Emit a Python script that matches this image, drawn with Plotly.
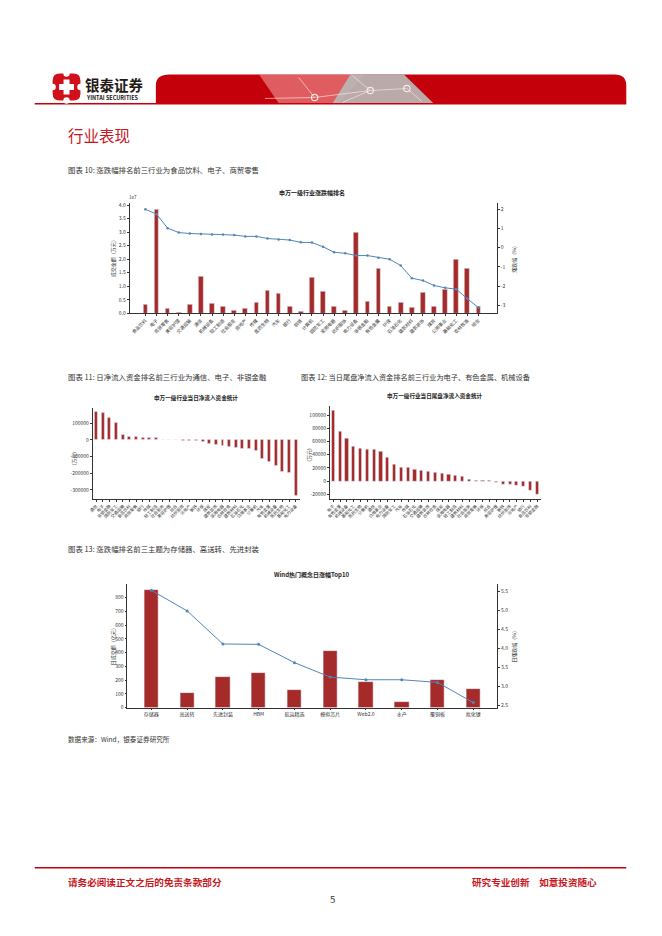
import plotly.graph_objects as go

W, H = 662, 936
def px(x): return x / W
def py(y): return 1 - y / H

FONT = "Noto Sans CJK SC"
BAR = "#a52a2a"
LINE = "#4f86b8"
RED = "#c8161d"

# ---------------- data ----------------
ind10 = ["食品饮料", "电子", "商贸零售", "美容护理", "交通运输", "通信", "机械设备", "轻工制造",
         "社会服务", "房地产", "传媒", "医药生物", "汽车", "银行", "钢铁", "计算机", "国防军工",
         "家用电器", "纺织服饰", "电力设备", "非银金融", "有色金属", "环保", "石油石化", "建筑材料",
         "建筑装饰", "煤炭", "公用事业", "基础化工", "农林牧渔", "综合"]
amount10 = [3200000, 38500000, 1700000, 400000, 3400000, 13700000, 3700000, 2500000,
            1100000, 1700000, 3900000, 8300000, 7400000, 2500000, 700000, 13200000, 8000000,
            2300000, 1100000, 29900000, 4200000, 16700000, 2600000, 3800000, 2100000,
            7500000, 2600000, 8800000, 19900000, 16400000, 2300000]
pct10 = [2.00, 1.75, 1.02, 0.79, 0.74, 0.72, 0.69, 0.69, 0.66, 0.59, 0.59, 0.48, 0.43, 0.40,
         0.28, 0.27, 0.05, -0.24, -0.29, -0.41, -0.41, -0.52, -0.60, -0.93, -1.59, -1.71,
         -1.97, -2.09, -2.16, -2.66, -3.12]
y10_ticks = [0, 5e6, 1e7, 1.5e7, 2e7, 2.5e7, 3e7, 3.5e7, 4e7]
y10_text = ["0.0", "0.5", "1.0", "1.5", "2.0", "2.5", "3.0", "3.5", "4.0"]
y10r_ticks = [2, 1, 0, -1, -2, -3]

ind11 = ["通信", "电子", "非银金融", "国防军工", "交通运输", "食品饮料", "商贸零售", "银行", "传媒",
         "轻工制造", "社会服务", "美容护理", "综合", "纺织服饰", "房地产", "钢铁", "环保", "煤炭",
         "建筑装饰", "家用电器", "农林牧渔", "建筑材料", "石油石化", "公用事业", "计算机", "汽车",
         "有色金属", "机械设备", "医药生物", "基础化工", "电力设备"]
flow11 = [167000, 161000, 135000, 105000, 32000, 20000, 16000, 13000, 11000, 10000, 1000, 500,
          -1500, -2500, -4000, -8000, -12000, -22000, -32000, -36000, -40000, -46000, -52000,
          -56000, -68000, -115000, -131000, -153000, -192000, -195000, -333000]
y11_ticks = [100000, 0, -100000, -200000, -300000]

ind12 = ["电子", "有色金属", "机械设备", "基础化工", "医药生物", "计算机", "通信", "公用事业",
         "电力设备", "国防军工", "汽车", "传媒", "石油石化", "交通运输", "建筑装饰", "农林牧渔",
         "煤炭", "家用电器", "轻工制造", "建筑材料", "社会服务", "商贸零售", "环保", "综合",
         "美容护理", "钢铁", "纺织服饰", "房地产", "银行", "食品饮料", "非银金融"]
flow12 = [107000, 75000, 65000, 52000, 50000, 47500, 47500, 45000, 35500, 25000, 20500, 20000,
          17000, 16000, 14000, 12500, 11000, 9500, 8000, 6500, 2000, 1500, 800, 500, -2500,
          -4500, -4500, -6000, -8000, -15000, -21000]
y12_ticks = [100000, 80000, 60000, 40000, 20000, 0, -20000]

concept13 = ["存储器", "高送转", "先进封装", "HBM", "航运精选", "模拟芯片", "Web2.0", "水产",
             "覆铜板", "氮化镓"]
turnover13 = [857, 109, 220, 251, 130, 411, 186, 43, 205, 133]
pct13 = [5.52, 4.98, 4.11, 4.10, 3.62, 3.24, 3.17, 3.17, 3.10, 2.57]
y13_ticks = [0, 100, 200, 300, 400, 500, 600, 700, 800]
y13r_ticks = [2.5, 3.0, 3.5, 4.0, 4.5, 5.0, 5.5]

# ---------------- figure ----------------
fig = go.Figure()

# chart 10
fig.add_trace(go.Bar(x=ind10, y=amount10, marker_color=BAR, width=0.42,
                     xaxis="x", yaxis="y", showlegend=False))
fig.add_trace(go.Scatter(x=ind10, y=pct10, mode="lines+markers",
                         line=dict(color=LINE, width=1), marker=dict(size=2.5, color=LINE),
                         xaxis="x", yaxis="y2", showlegend=False))
# chart 11
fig.add_trace(go.Bar(x=ind11, y=flow11, marker_color=BAR, width=0.45,
                     xaxis="x2", yaxis="y3", showlegend=False))
# chart 12
fig.add_trace(go.Bar(x=ind12, y=flow12, marker_color=BAR, width=0.45,
                     xaxis="x3", yaxis="y4", showlegend=False))
# chart 13
fig.add_trace(go.Bar(x=concept13, y=turnover13, marker_color=BAR, width=0.4,
                     xaxis="x4", yaxis="y5", showlegend=False))
fig.add_trace(go.Scatter(x=concept13, y=pct13, mode="lines+markers",
                         line=dict(color=LINE, width=1), marker=dict(size=3, color=LINE),
                         xaxis="x4", yaxis="y6", showlegend=False))

tickf = dict(family=FONT, size=5, color="#333")
ax_common = dict(showgrid=False, zeroline=False, showline=True, linecolor="#333",
                 linewidth=0.6, ticks="outside", ticklen=2, tickwidth=0.5,
                 tickcolor="#333", tickfont=tickf)

fig.update_layout(
    width=W, height=H, margin=dict(l=0, r=0, t=0, b=0),
    paper_bgcolor="white", plot_bgcolor="white", bargap=0,
    font=dict(family=FONT),
    xaxis=dict(ax_common, domain=[px(125.5), px(495.7)], anchor="y",
               range=[-1.43, 31.67], tickangle=-45, tickfont=dict(family=FONT, size=4.6, color="#333")),
    yaxis=dict(ax_common, domain=[py(313), py(201.7)], anchor="x", range=[0, 4.09e7],
               tickvals=y10_ticks, ticktext=y10_text),
    yaxis2=dict(ax_common, overlaying="y", side="right", anchor="x", range=[-3.42, 2.35],
                tickvals=y10r_ticks, ticktext=[str(v) for v in y10r_ticks]),
    xaxis2=dict(ax_common, domain=[px(88.3), px(297)], anchor="y3",
                range=[-0.55, 30.6], tickangle=-45, tickfont=dict(family=FONT, size=4.2, color="#333")),
    yaxis3=dict(ax_common, domain=[py(500), py(408)], anchor="x2", range=[-356000, 192600],
                tickvals=y11_ticks, ticktext=[str(v) for v in y11_ticks]),
    xaxis3=dict(ax_common, domain=[px(327.3), px(540)], anchor="y4",
                range=[-0.5, 30.55], tickangle=-45, tickfont=dict(family=FONT, size=4.2, color="#333")),
    yaxis4=dict(ax_common, domain=[py(500), py(405.7)], anchor="x3", range=[-27600, 114500],
                tickvals=y12_ticks, ticktext=[str(v) for v in y12_ticks]),
    xaxis4=dict(ax_common, domain=[px(123.3), px(496)], anchor="y5",
                range=[-0.67, 9.67], tickfont=dict(family=FONT, size=5, color="#333")),
    yaxis5=dict(ax_common, domain=[py(709.3), py(585)], anchor="x4", range=[0, 901],
                tickvals=y13_ticks, ticktext=[str(v) for v in y13_ticks]),
    yaxis6=dict(ax_common, overlaying="y5", side="right", anchor="x4", range=[2.44, 5.69],
                tickvals=y13r_ticks, ticktext=[f"{v:.1f}" for v in y13r_ticks]),
)

shapes = []
ann = []

def text(x, y, s, size, color="#333", anchor="left", bold=False, angle=0, yanchor="middle"):
    ann.append(dict(x=px(x), y=py(y), xref="paper", yref="paper", text=("<b>%s</b>" % s) if bold else s,
                    showarrow=False, xanchor=anchor, yanchor=yanchor, textangle=angle,
                    borderpad=0, font=dict(family=FONT, size=size, color=color)))

def poly(pts, color, line=None):
    path = "M " + " L ".join(f"{px(x)},{py(y)}" for x, y in pts) + " Z"
    shapes.append(dict(type="path", path=path, xref="paper", yref="paper",
                       fillcolor=color, line=dict(width=0) if line is None else line, layer="above"))

def seg(x0, y0, x1, y1, color, w):
    shapes.append(dict(type="line", x0=px(x0), y0=py(y0), x1=px(x1), y1=py(y1),
                       xref="paper", yref="paper", line=dict(color=color, width=w)))

def circ(cx, cy, r, fill, lc=None, lw=0):
    shapes.append(dict(type="circle", x0=px(cx - r), x1=px(cx + r), y0=py(cy + r), y1=py(cy - r),
                       xref="paper", yref="paper", fillcolor=fill,
                       line=dict(color=lc or fill, width=lw)))

# ---- header ----
band = (f"M {px(152)},{py(102)} L {px(152)},{py(84)} Q {px(152)},{py(73)} {px(166)},{py(73)} "
        f"L {px(614)},{py(73)} Q {px(626)},{py(73)} {px(626)},{py(84)} L {px(626)},{py(102)} Z")
shapes.append(dict(type="path", path=band, xref="paper", yref="paper", fillcolor="#c4000b",
                   line=dict(width=0)))
poly([(256, 73), (362, 73), (336, 102), (276, 102)], "rgba(245,170,170,0.55)")
poly([(348, 73), (402, 73), (432, 102), (330, 102)], "rgba(185,185,185,0.92)")
for (a, b, c, d) in [(262, 97, 312, 96), (312, 96, 368, 89), (368, 89, 405, 87), (312, 96, 296, 76),
                     (368, 89, 350, 74), (405, 87, 420, 100), (340, 101, 368, 89)]:
    seg(a, b, c, d, "rgba(255,230,230,0.8)", 0.8)
for (cx, cy) in [(312, 96), (368, 89), (405, 87)]:
    circ(cx, cy, 3.2, "rgba(0,0,0,0)", "rgba(255,240,240,0.9)", 1.2)
seg(30, 102.3, 626, 102.3, "#c4000b", 1.4)

# logo
logo = (f"M {px(48)},{py(79)} Q {px(48)},{py(72)} {px(55)},{py(72)} L {px(69)},{py(72)} "
        f"Q {px(76)},{py(72)} {px(76)},{py(79)} L {px(76)},{py(92)} Q {px(76)},{py(99)} {px(69)},{py(99)} "
        f"L {px(55)},{py(99)} Q {px(48)},{py(99)} {px(48)},{py(92)} Z")
shapes.append(dict(type="path", path=logo, xref="paper", yref="paper", fillcolor="#d0111b",
                   line=dict(width=0)))
for (cx, cy) in [(62, 72), (62, 99), (48, 85.5), (76, 85.5)]:
    circ(cx, cy, 3.2, "white")
poly([(59, 78), (65, 78), (65, 82.5), (69.5, 82.5), (69.5, 88.5), (65, 88.5), (65, 93), (59, 93),
      (59, 88.5), (54.5, 88.5), (54.5, 82.5), (59, 82.5)], "white")
text(80, 82.5, "银泰证券", 14.5, "#231815", bold=True)
text(80.5, 97, "YINTAI SECURITIES", 5.5, "#231815", bold=True)

# section title & captions
text(62, 133.5, "行业表现", 15.5, RED)
text(62, 168, "图表 10: 涨跌幅排名前三行业为食品饮料、电子、商贸零售", 7.4)
text(62, 377, "图表 11: 日净流入资金排名前三行业为通信、电子、非银金融", 7.4)
text(297, 377, "图表 12: 当日尾盘净流入资金排名前三行业为电子、有色金属、机械设备", 7.2)
text(62, 549, "图表 13: 涨跌幅排名前三主题为存储器、高送转、先进封装", 7.4)
text(62, 741, "数据来源：Wind，银泰证券研究所", 6.6)

# chart titles & axis labels
text(309.5, 191.7, "申万一级行业涨跌幅排名", 6, "#222", anchor="center", bold=True)
text(124, 200, "1e7", 4.6, "#333", anchor="left", yanchor="bottom")
text(108.5, 257, "成交金额（万元）", 5, "#333", anchor="center", angle=-90)
text(512, 257, "涨跌幅（%）", 5, "#333", anchor="center", angle=-90)

text(192.5, 397.7, "申万一级行业当日净流入资金统计", 5.6, "#222", anchor="center", bold=True)
text(69.5, 459, "(万元)", 5, "#333", anchor="center", angle=-90)

text(433, 395.7, "申万一级行业当日尾盘净流入资金统计", 5.6, "#222", anchor="center", bold=True)
text(305.5, 455, "(万元)", 5, "#333", anchor="center", angle=-90)

text(309, 575.5, "Wind热门概念日涨幅Top10", 6, "#222", anchor="center", bold=True)
text(108.5, 647, "日成交额（亿元）", 5, "#333", anchor="center", angle=-90)
text(512, 647, "日涨跌幅（%）", 5, "#333", anchor="center", angle=-90)

# footer
seg(30, 870.5, 626, 870.5, "#c4000b", 1.5)
text(62, 884.5, "请务必阅读正文之后的免责条款部分", 9.6, RED, bold=True)
text(598, 884.5, "研究专业创新　如意投资随心", 9.6, RED, anchor="right", bold=True)
text(330, 901.5, "5", 9.5, "#333", anchor="center")

fig.update_layout(shapes=shapes, annotations=ann)

fig.write_html("out.html", include_plotlyjs=True, config={"displayModeBar": False},
               post_script="document.body.style.margin='0';document.body.style.overflow='hidden';")
